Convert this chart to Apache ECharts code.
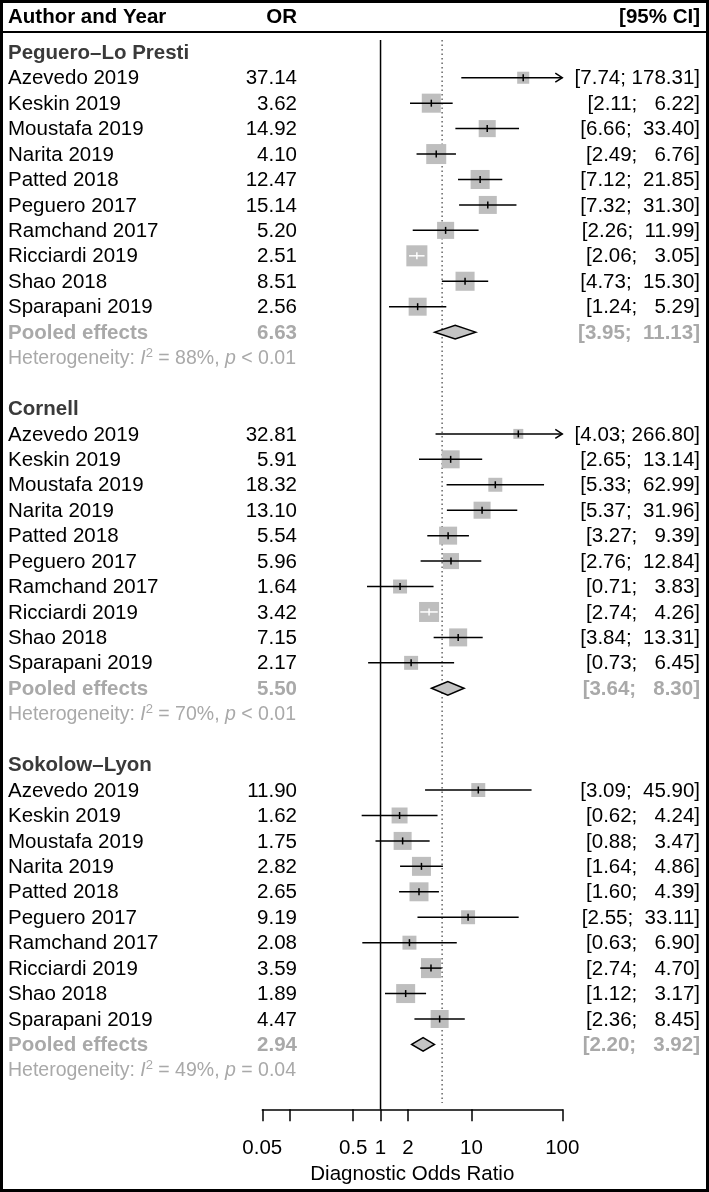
<!DOCTYPE html>
<html>
<head>
<meta charset="utf-8">
<script src="https://cdn.jsdelivr.net/npm/echarts@6/dist/echarts.min.js"></script>
<style>
  html, body { margin: 0; padding: 0; background: #fff; }
  #chart { width: 709px; height: 1192px; }
</style>
</head>
<body>
<div id="chart"></div>
<script>
// studies, same order in every subgroup
const studies = ["Azevedo 2019", "Keskin 2019", "Moustafa 2019", "Narita 2019", "Patted 2018",
  "Peguero 2017", "Ramchand 2017", "Ricciardi 2019", "Shao 2018", "Sparapani 2019"];
const groupNames = ["Peguero–Lo Presti", "Cornell", "Sokolow–Lyon"];

// Peguero–Lo Presti
const orPLP = [37.14, 3.62, 14.92, 4.10, 12.47, 15.14, 5.20, 2.51, 8.51, 2.56];
const loPLP = [7.74, 2.11, 6.66, 2.49, 7.12, 7.32, 2.26, 2.06, 4.73, 1.24];
const hiPLP = [178.31, 6.22, 33.40, 6.76, 21.85, 31.30, 11.99, 3.05, 15.30, 5.29];
const wPLP = [4.4, 11.0, 8.8, 12.1, 11.0, 9.8, 8.8, 13.4, 11.0, 9.8];

// Cornell
const orCOR = [32.81, 5.91, 18.32, 13.10, 5.54, 5.96, 1.64, 3.42, 7.15, 2.17];
const loCOR = [4.03, 2.65, 5.33, 5.37, 3.27, 2.76, 0.71, 2.74, 3.84, 0.73];
const hiCOR = [266.80, 13.14, 62.99, 31.96, 9.39, 12.84, 3.83, 4.26, 13.31, 6.45];
const wCOR = [3.0, 9.8, 5.9, 8.8, 9.8, 7.8, 5.9, 12.1, 9.8, 5.9];

// Sokolow–Lyon
const orSL = [11.90, 1.62, 1.75, 2.82, 2.65, 9.19, 2.08, 3.59, 1.89, 4.47];
const loSL = [3.09, 0.62, 0.88, 1.64, 1.60, 2.55, 0.63, 2.74, 1.12, 2.36];
const hiSL = [45.90, 4.24, 3.47, 4.86, 4.39, 33.11, 6.90, 4.70, 3.17, 8.45];
const wSL = [5.9, 7.7, 9.8, 10.9, 10.9, 5.9, 5.9, 12.1, 10.9, 9.8];

// pooled (random effects) per subgroup
const pooledOR = [6.63, 5.50, 2.94];
const pooledLo = [3.95, 3.64, 2.20];
const pooledHi = [11.13, 8.30, 3.92];
const hetI2 = [88, 70, 49];
const hetP = ["< 0.01", "< 0.01", "= 0.04"];

const refLine = 4.76; // dotted overall line
const xTicks = [0.05, 0.1, 0.5, 1, 2, 10, 100];
const xLabels = [0.05, 0.5, 1, 2, 10, 100];
const xMin = 0.05, xMax = 100;

const FONT = '"Liberation Sans", Arial, Helvetica, sans-serif';
const FS = 20.5;
const GRAY_TXT = "#a9a9a9";

const groups = [
  { or: orPLP, lo: loPLP, hi: hiPLP, w: wPLP },
  { or: orCOR, lo: loCOR, hi: hiCOR, w: wCOR },
  { or: orSL, lo: loSL, hi: hiSL, w: wSL },
];

function fmtCI(lo, hi) {
  let h = hi.toFixed(2);
  while (h.length < 6) h = " " + h;
  return "[" + lo.toFixed(2) + "; " + h + "]";
}

// build rows
const studyData = [];
const diamondData = [];
const textRows = [];
groups.forEach((g, gi) => {
  const base = gi * 14;
  textRows.push({ row: base, name: groupNames[gi], kind: "title" });
  studies.forEach((s, i) => {
    const row = base + 1 + i;
    studyData.push([g.or[i], g.lo[i], g.hi[i], row, g.w[i]]);
    textRows.push({ row: row, name: s, or: g.or[i].toFixed(2), ci: fmtCI(g.lo[i], g.hi[i]), kind: "study" });
  });
  diamondData.push([pooledOR[gi], pooledLo[gi], pooledHi[gi], base + 11]);
  textRows.push({ row: base + 11, name: "Pooled effects", or: pooledOR[gi].toFixed(2),
    ci: fmtCI(pooledLo[gi], pooledHi[gi]), kind: "pooled" });
  textRows.push({ row: base + 12, kind: "het",
    name: "Heterogeneity: {i|I}{s|2} = " + hetI2[gi] + "%, {i|p} " + hetP[gi] });
});

const chart = echarts.init(document.getElementById("chart"));

const option = {
  backgroundColor: "#fff",
  animation: false,
  textStyle: { fontFamily: FONT },
  grid: { left: 262.3, right: 146.7, top: 14.14, bottom: 82.7, outerBoundsMode: "none" },
  xAxis: {
    type: "log",
    logBase: 10,
    position: "bottom",
    min: xMin,
    max: xMax,
    name: "Diagnostic Odds Ratio",
    nameLocation: "middle",
    nameGap: 54,
    nameTextStyle: { fontSize: FS, color: "#000", fontFamily: FONT },
    axisLine: { onZero: false, lineStyle: { color: "#000", width: 1.5 } },
    axisTick: { customValues: xTicks, length: 12, lineStyle: { color: "#000", width: 1.5 } },
    axisLabel: {
      customValues: xLabels,
      fontSize: FS,
      color: "#000",
      margin: 29,
      fontFamily: FONT,
      formatter: (v) => String(+(+v).toPrecision(3)),
    },
    splitLine: { show: false },
    minorTick: { show: false },
  },
  yAxis: { type: "value", inverse: true, min: -1.5, max: 41.55, show: false },
  graphic: [
    { type: "rect", shape: { x: 1.5, y: 1.5, width: 706, height: 1189 },
      style: { fill: "none", stroke: "#000", lineWidth: 3 }, z: 100 },
    { type: "line", shape: { x1: 0, y1: 32, x2: 709, y2: 32 }, style: { stroke: "#000", lineWidth: 2 } },
    { type: "text", x: 8, y: 17, style: { text: "Author and Year", font: "bold 20.5px " + FONT, fill: "#000", verticalAlign: "middle" } },
    { type: "text", x: 297, y: 17, style: { text: "OR", font: "bold 20.5px " + FONT, fill: "#000", align: "right", verticalAlign: "middle" } },
    { type: "text", x: 700, y: 17, style: { text: "[95% CI]", font: "bold 20.5px " + FONT, fill: "#000", align: "right", verticalAlign: "middle" } },
  ],
  series: [
    {
      type: "line", symbol: "none", silent: true, z: 1,
      data: [[1, -0.48], [1, 41.55]],
      lineStyle: { color: "#000", width: 1.5 },
    },
    {
      type: "line", symbol: "none", silent: true, z: 1,
      data: [[refLine, -0.48], [refLine, 41.3]],
      lineStyle: { color: "#666", width: 1.5, type: [1.5, 3] },
    },
    {
      type: "custom", z: 3,
      data: studyData,
      encode: { x: [0, 1, 2], y: 3 },
      renderItem: function (params, api) {
        const or = api.value(0), lo = api.value(1), hi = api.value(2), row = api.value(3), w = api.value(4);
        const c = api.coord([or, row]);
        const pLo = api.coord([Math.max(lo, xMin), row]);
        const pHi = api.coord([Math.min(hi, xMax), row]);
        const s = 5.75 * Math.sqrt(w);
        const inside = pLo[0] >= c[0] - s / 2 && pHi[0] <= c[0] + s / 2;
        const lc = inside ? "#fff" : "#000";
        const kids = [
          { type: "rect", shape: { x: c[0] - s / 2, y: c[1] - s / 2, width: s, height: s }, style: { fill: "#bebebe" } },
          { type: "line", shape: { x1: pLo[0], y1: c[1], x2: pHi[0], y2: c[1] }, style: { stroke: lc, lineWidth: 1.5 } },
          { type: "line", shape: { x1: c[0], y1: c[1] - 3.5, x2: c[0], y2: c[1] + 3.5 }, style: { stroke: lc, lineWidth: 1.5 } },
        ];
        if (hi > xMax) {
          kids.push({ type: "polyline", shape: { points: [[pHi[0] - 7, c[1] - 4.5], [pHi[0], c[1]], [pHi[0] - 7, c[1] + 4.5]] },
            style: { stroke: "#000", lineWidth: 1.5, fill: null } });
        }
        return { type: "group", children: kids };
      },
    },
    {
      type: "custom", z: 3,
      data: diamondData,
      encode: { x: [0, 1, 2], y: 3 },
      renderItem: function (params, api) {
        const row = api.value(3);
        const c = api.coord([api.value(0), row]);
        const pLo = api.coord([api.value(1), row]);
        const pHi = api.coord([api.value(2), row]);
        const h = 6.8;
        return {
          type: "polygon",
          shape: { points: [[pLo[0], c[1]], [c[0], c[1] - h], [pHi[0], c[1]], [c[0], c[1] + h]] },
          style: { fill: "#c4c4c4", stroke: "#000", lineWidth: 1.5 },
        };
      },
    },
    {
      type: "custom", z: 4, silent: true,
      data: textRows.map((r) => [1, r.row]),
      encode: { x: 0, y: 1 },
      renderItem: function (params, api) {
        const r = textRows[params.dataIndex];
        const y = api.coord([1, r.row])[1] + 1;
        const kids = [];
        const base = { fontFamily: FONT, fontSize: FS, verticalAlign: "middle" };
        if (r.kind === "title") {
          kids.push({ type: "text", x: 8, y: y, style: Object.assign({}, base, { text: r.name, fill: "#3a3a3a", fontWeight: "bold" }) });
        } else if (r.kind === "het") {
          kids.push({ type: "text", x: 8, y: y, style: Object.assign({}, base, {
            text: r.name, fill: GRAY_TXT, fontSize: 19.5,
            rich: {
              i: { fontStyle: "italic", fontSize: 19.5, fontFamily: FONT, fill: GRAY_TXT },
              s: { fontSize: 13, fontFamily: FONT, fill: GRAY_TXT, padding: [0, 0, 10, 0] },
            },
          }) });
        } else {
          const pooled = r.kind === "pooled";
          const fill = pooled ? GRAY_TXT : "#000";
          const fw = pooled ? "bold" : "normal";
          kids.push({ type: "text", x: 8, y: y, style: Object.assign({}, base, { text: r.name, fill: fill, fontWeight: fw }) });
          kids.push({ type: "text", x: 297, y: y, style: Object.assign({}, base, { text: r.or, fill: fill, fontWeight: fw, align: "right" }) });
          kids.push({ type: "text", x: 700, y: y, style: Object.assign({}, base, { text: r.ci, fill: fill, fontWeight: fw, align: "right" }) });
        }
        return { type: "group", children: kids };
      },
    },
  ],
};

chart.setOption(option);
</script>
</body>
</html>
